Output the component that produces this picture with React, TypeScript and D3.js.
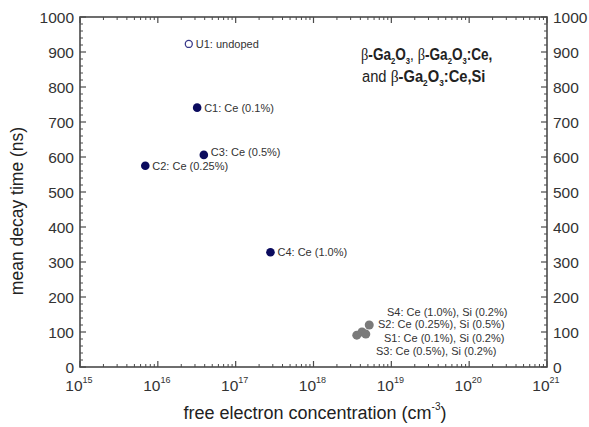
import React from "react";
import * as d3 from "d3";

const pointsCe = [
  { name: "C1: Ce (0.1%)", n: 3.2e16, tau: 741 },
  { name: "C2: Ce (0.25%)", n: 6.9e15, tau: 575 },
  { name: "C3: Ce (0.5%)", n: 3.9e16, tau: 606 },
  { name: "C4: Ce (1.0%)", n: 2.8e17, tau: 328 },
];
const pointUndoped = { name: "U1: undoped", n: 2.5e16, tau: 923 };
const pointsSi = [
  { name: "S1: Ce (0.1%), Si (0.2%)", n: 4.2e18, tau: 100 },
  { name: "S2: Ce (0.25%), Si (0.5%)", n: 4.7e18, tau: 94 },
  { name: "S3: Ce (0.5%), Si (0.2%)", n: 3.6e18, tau: 91 },
  { name: "S4: Ce (1.0%), Si (0.2%)", n: 5.2e18, tau: 120 },
];
const siLabels = [
  "S4: Ce (1.0%), Si (0.2%)",
  "S2: Ce (0.25%), Si (0.5%)",
  "S1: Ce (0.1%), Si (0.2%)",
  "S3: Ce (0.5%), Si (0.2%)",
];
const xExponents = [15, 16, 17, 18, 19, 20, 21];
const yTicks = [0, 100, 200, 300, 400, 500, 600, 700, 800, 900, 1000];

const W = 589, H = 427;
const L = 80, R = 547, T = 17, B = 367;

export default function App() {
  const x = d3.scaleLog().domain([1e15, 1e21]).range([L, R]);
  const y = d3.scaleLinear().domain([0, 1000]).range([B, T]);
  const font = "Arial, 'Liberation Sans', Helvetica, sans-serif";
  const serif = "'Liberation Serif', 'DejaVu Serif', serif";
  const axisColor = "#4a4a4a";
  const textColor = "#333";
  const dark = "#0b0b5e";

  const yMinor = d3.range(0, 1001, 20).filter((v) => v % 100 !== 0);
  const xMinor: number[] = [];
  for (let e = 15; e < 21; e++) for (let m = 2; m <= 9; m++) xMinor.push(m * Math.pow(10, e));

  return (
    <svg width={W} height={H} style={{ position: "absolute", left: 0, top: 0, background: "#fff" }} fontFamily={font}>
      <rect x={L} y={T} width={R - L} height={B - T} fill="none" stroke={axisColor} strokeWidth={1.6} />
      {yTicks.map((v) => (
        <g key={"y" + v}>
          <line x1={L} x2={L + 6} y1={y(v)} y2={y(v)} stroke={axisColor} strokeWidth={1.2} />
          <line x1={R} x2={R - 6} y1={y(v)} y2={y(v)} stroke={axisColor} strokeWidth={1.2} />
          <text x={L - 6} y={y(v) + 5.5} textAnchor="end" fontSize={15.5} fill={textColor}>{v}</text>
          <text x={R + 6} y={y(v) + 5.5} textAnchor="start" fontSize={15.5} fill={textColor}>{v}</text>
        </g>
      ))}
      {yMinor.map((v) => (
        <g key={"ym" + v}>
          <line x1={L} x2={L + 3} y1={y(v)} y2={y(v)} stroke={axisColor} strokeWidth={1} />
          <line x1={R} x2={R - 3} y1={y(v)} y2={y(v)} stroke={axisColor} strokeWidth={1} />
        </g>
      ))}
      {xExponents.map((e) => {
        const xv = x(Math.pow(10, e));
        return (
          <g key={"x" + e}>
            <line x1={xv} x2={xv} y1={B} y2={B - 6} stroke={axisColor} strokeWidth={1.2} />
            <line x1={xv} x2={xv} y1={T} y2={T + 6} stroke={axisColor} strokeWidth={1.2} />
            <text x={xv - 1} y={391} textAnchor="middle" fontSize={15.5} fill={textColor}>
              10
              <tspan fontSize={9} dy={-8}>{e}</tspan>
            </text>
          </g>
        );
      })}
      {xMinor.map((v, i) => (
        <g key={"xm" + i}>
          <line x1={x(v)} x2={x(v)} y1={B} y2={B - 3} stroke={axisColor} strokeWidth={1} />
          <line x1={x(v)} x2={x(v)} y1={T} y2={T + 3} stroke={axisColor} strokeWidth={1} />
        </g>
      ))}
      <text x={315} y={419} textAnchor="middle" fontSize={18} fill="#222">
        free electron concentration (cm
        <tspan fontSize={10} dy={-9}>-3</tspan>
        <tspan dy={9}>)</tspan>
      </text>
      <text transform={`translate(23,211) rotate(-90)`} textAnchor="middle" fontSize={17.5} fill="#222">
        mean decay time (ns)
      </text>
      <g transform="translate(361,60) scale(0.85,1)">
        <text x={0} y={0} fontSize={16} fontWeight="bold" fill="#222">
          <tspan fontFamily={serif} fontWeight="normal" fontSize={17}>β</tspan>
          <tspan>-Ga</tspan>
          <tspan fontSize={9} dy={4}>2</tspan>
          <tspan dy={-4}>O</tspan>
          <tspan fontSize={9} dy={4}>3</tspan>
          <tspan dy={-4} fontWeight="normal">, </tspan>
          <tspan fontFamily={serif} fontWeight="normal" fontSize={17}>β</tspan>
          <tspan>-Ga</tspan>
          <tspan fontSize={9} dy={4}>2</tspan>
          <tspan dy={-4}>O</tspan>
          <tspan fontSize={9} dy={4}>3</tspan>
          <tspan dy={-4}>:Ce,</tspan>
        </text>
      </g>
      <g transform="translate(362,82) scale(0.92,1)">
        <text x={0} y={0} fontSize={16} fontWeight="bold" fill="#222">
          <tspan fontWeight="normal">and </tspan>
          <tspan fontFamily={serif} fontWeight="normal" fontSize={17}>β</tspan>
          <tspan>-Ga</tspan>
          <tspan fontSize={9} dy={4}>2</tspan>
          <tspan dy={-4}>O</tspan>
          <tspan fontSize={9} dy={4}>3</tspan>
          <tspan dy={-4}>:Ce,Si</tspan>
        </text>
      </g>
      <circle cx={x(pointUndoped.n)} cy={y(pointUndoped.tau)} r={3.5} fill="#fff" stroke="#3a3a8a" strokeWidth={1.3} />
      <text x={x(pointUndoped.n) + 7} y={y(pointUndoped.tau) + 4} fontSize={11} fill={textColor}>{pointUndoped.name}</text>
      {pointsCe.map((p) => (
        <g key={p.name}>
          <circle cx={x(p.n)} cy={y(p.tau)} r={4.3} fill={dark} />
          <text x={x(p.n) + 7} y={y(p.tau) + (p.name.startsWith("C3") ? 1 : 4)} fontSize={11} fill={textColor}>{p.name}</text>
        </g>
      ))}
      {pointsSi.map((p) => (
        <circle key={p.name} cx={x(p.n)} cy={y(p.tau)} r={4.5} fill="#7a7a7a" />
      ))}
      {siLabels.map((s, i) => (
        <text key={s} x={[387, 378, 384, 376][i]} y={[316, 328, 342, 355][i]} fontSize={11} fill={textColor}>{s}</text>
      ))}
    </svg>
  );
}
